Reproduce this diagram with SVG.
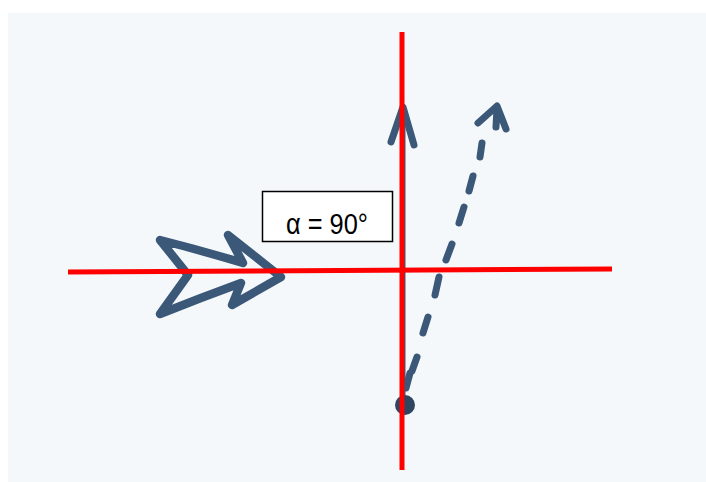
<svg xmlns="http://www.w3.org/2000/svg" width="706" height="482" viewBox="0 0 706 482">
<style>
.ink{fill:none;stroke:#3b5878;stroke-linecap:round;stroke-linejoin:round}
.red{stroke:#ff0000;stroke-width:5;fill:none}
.lbl{font-family:"Liberation Sans",Arial,sans-serif;font-size:29px;fill:#000}
</style>
<rect width="706" height="482" fill="#ffffff"/>
<rect x="8" y="13" width="698" height="469" fill="#f4f8fb"/>
<g id="bigArrow">
<path class="ink" stroke-width="8.5" d="M160,240 Q200,250 243,263 L228,235 L281,277 L232,305 L241,283 Q200,298 160,314 L188,275 Z"/>
</g>
<g id="connectors">
<path class="ink" stroke-width="5" d="M403,395 L403,110"/>
<path class="ink" stroke-width="7" d="M391,142 L403,107 L414,145"/>
<g class="ink" stroke-width="7">
<line x1="406" y1="388" x2="410" y2="373"/>
<line x1="412" y1="371" x2="417" y2="357"/>
<line x1="423" y1="333" x2="428" y2="317"/>
<line x1="435" y1="295" x2="439" y2="277"/>
<line x1="446" y1="260" x2="452" y2="244"/>
<line x1="459" y1="223" x2="464" y2="207"/>
<line x1="469" y1="191" x2="473" y2="176"/>
<line x1="480" y1="157" x2="482" y2="143"/>
</g>
<path class="ink" stroke-width="7" d="M478,123 L497,106 L506,129 M497,108 L496,127"/>
<circle cx="405" cy="405" r="10" fill="#2e4660"/>
</g>
<g id="axes">
<line class="red" x1="68" y1="272" x2="612" y2="269"/>
<line class="red" x1="402" y1="32" x2="402" y2="470"/>
</g>
<g id="label">
<rect x="262.5" y="191.5" width="130" height="50" fill="#ffffff" stroke="#000" stroke-width="1.5"/>
<text class="lbl" x="286" y="234" textLength="82" lengthAdjust="spacingAndGlyphs">α = 90°</text>
</g>
</svg>
